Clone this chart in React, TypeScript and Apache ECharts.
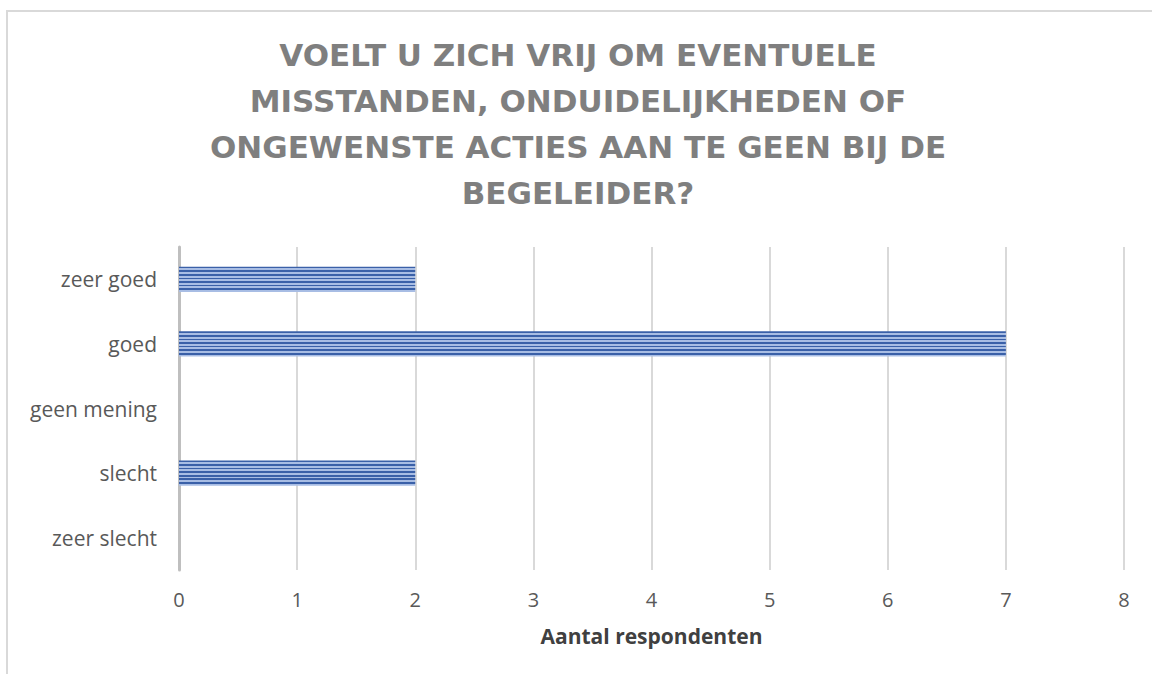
import React, { useEffect, useRef } from "react";
import * as echarts from "echarts";

const categories = ["zeer goed", "goed", "geen mening", "slecht", "zeer slecht"];
const values = [2, 7, 0, 2, 0];
const xTicks = [0, 1, 2, 3, 4, 5, 6, 7, 8];
const titleLines = [
  "VOELT U ZICH VRIJ OM EVENTUELE",
  "MISSTANDEN, ONDUIDELIJKHEDEN OF",
  "ONGEWENSTE ACTIES AAN TE GEEN BIJ DE",
  "BEGELEIDER?",
];
const xName = "Aantal respondenten";

function stripeGradient() {
  const n = 7;
  const stops: { offset: number; color: string }[] = [];
  const dark = "#3a60a8";
  const light = "#a8bde4";
  for (let i = 0; i < n; i++) {
    const a = i / n;
    const m = (i + 0.45) / n;
    const b = (i + 1) / n;
    stops.push({ offset: a, color: dark });
    stops.push({ offset: m, color: dark });
    stops.push({ offset: m, color: light });
    stops.push({ offset: b, color: light });
  }
  return new echarts.graphic.LinearGradient(0, 0, 0, 1, stops);
}

export default function App() {
  const ref = useRef<HTMLDivElement>(null);
  useEffect(() => {
    if (!ref.current) return;
    const chart = echarts.init(ref.current, null, { renderer: "svg" });
    chart.setOption({
      animation: false,
      backgroundColor: "#ffffff",
      graphic: [
        {
          type: "rect",
          shape: { x: 7, y: 11, width: 1300, height: 800 },
          style: { fill: "none", stroke: "#d9d9d9", lineWidth: 2 },
          silent: true,
        },
        ...titleLines.map((t, i) => ({
          type: "text",
          x: 578,
          y: 55 + i * 46,
          style: {
            text: t,
            fill: "#7f7f7f",
            font: "bold 31px 'DejaVu Sans'",
            align: "center",
            verticalAlign: "middle",
          },
        })),
      ],
      grid: { left: 179, right: 28, top: 247, bottom: 104, containLabel: false },
      xAxis: {
        type: "value",
        min: 0,
        max: 8,
        interval: 1,
        name: xName,
        nameLocation: "middle",
        nameGap: 55,
        nameTextStyle: { fontFamily: "Open Sans", fontWeight: "bold", fontSize: 21, color: "#404040" },
        axisLine: { show: false },
        axisTick: { show: false },
        splitLine: { show: true, lineStyle: { color: "#d9d9d9", width: 2 } },
        axisLabel: {
          margin: 19,
          fontFamily: "Open Sans",
          fontSize: 20,
          color: "#595959",
          formatter: (v: number) => (xTicks.includes(v) ? String(v) : ""),
        },
      },
      yAxis: {
        type: "category",
        data: categories,
        inverse: true,
        axisLine: { show: true, lineStyle: { color: "#bfbfbf", width: 3 } },
        axisTick: { show: false },
        axisLabel: { margin: 22, fontFamily: "Open Sans", fontSize: 21, color: "#595959" },
      },
      series: [
        {
          type: "bar",
          data: values,
          barCategoryGap: "61%",
          itemStyle: { color: stripeGradient(), borderWidth: 0 },
        },
      ],
    });
    return () => chart.dispose();
  }, []);
  return (
    <div
      ref={ref}
      style={{ position: "absolute", left: 0, top: 0, width: 1152, height: 674 }}
    />
  );
}
